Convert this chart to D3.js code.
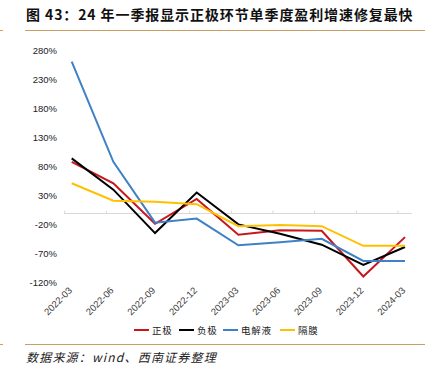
<!DOCTYPE html>
<html>
<head>
<meta charset="utf-8">
<script src="https://cdn.jsdelivr.net/npm/d3@7"></script>
<style>
  body { margin: 0; background: #fff; }
  svg { display: block; font-family: "Liberation Sans", Arial, sans-serif; }
</style>
</head>
<body>
<div id="chart"></div>
<script>
const quarters = ['2022-03', '2022-06', '2022-09', '2022-12', '2023-03', '2023-06', '2023-09', '2023-12', '2024-03'];
const cathode = [88, 51, -19, 24, -38, -30, -31, -110, -42];
const anode = [94, 40, -35, 35, -20, -36, -55, -90, -59];
const electrolyte = [261, 88, -17, -10, -56, -51, -45, -83, -83];
const separator = [51, 21, 19, 15, -23, -21, -23, -57, -57];
const yTicks = [-120, -70, -20, 30, 80, 130, 180, 230, 280];

const series = [
  { name: '正极', values: cathode, color: '#c8161d' },
  { name: '负极', values: anode, color: '#000000' },
  { name: '电解液', values: electrolyte, color: '#3f81c6' },
  { name: '隔膜', values: separator, color: '#ffc000' }
];

const width = 436, height = 375;
const svg = d3.select('#chart').append('svg')
  .attr('width', width)
  .attr('height', height);

// title + rules
svg.append('text')
  .attr('x', 26).attr('y', 20)
  .attr('font-family', '"Noto Sans CJK SC", sans-serif')
  .attr('font-weight', 'bold')
  .attr('font-size', 14)
  .attr('letter-spacing', 0.9)
  .attr('fill', '#111')
  .text('图 43：24 年一季报显示正极环节单季度盈利增速修复最快');

const ruleColor = '#c9a063';
svg.append('line').attr('x1', 25).attr('x2', 425).attr('y1', 30.5).attr('y2', 30.5)
  .attr('stroke', ruleColor).attr('stroke-width', 1);
svg.append('line').attr('x1', 25).attr('x2', 425).attr('y1', 344.5).attr('y2', 344.5)
  .attr('stroke', ruleColor).attr('stroke-width', 1);
// small edge marks on the left of the rules
[30.5, 344.5].forEach(yy => {
  svg.append('line').attr('x1', 0).attr('x2', 3).attr('y1', yy).attr('y2', yy)
    .attr('stroke', '#e0a040');
});

svg.append('text')
  .attr('x', 26).attr('y', 362)
  .attr('font-family', '"Noto Sans CJK SC", sans-serif')
  .attr('font-style', 'italic')
  .attr('font-size', 12)
  .attr('letter-spacing', 1.2)
  .attr('fill', '#222')
  .text('数据来源：wind、西南证券整理');

// scales
const x = d3.scalePoint().domain(quarters).range([71.7, 405]);
const y = d3.scaleLinear().domain([-120, 280]).range([282.3, 50.7]);

// y labels (no axis line)
const axisY = d3.axisLeft(y).tickValues(yTicks).tickSize(0).tickPadding(0)
  .tickFormat(d => d + '%');
svg.append('g')
  .attr('class', 'axis axis-y')
  .attr('transform', 'translate(57,0)')
  .call(axisY)
  .call(g => g.select('.domain').remove())
  .selectAll('text')
  .attr('font-size', 9.5)
  .attr('fill', '#222')
  .attr('font-family', '"Liberation Sans", Arial, sans-serif');

// category axis drawn on the zero line
const zeroY = Math.round(y(0)) + 0.5;
const axisX = svg.append('g').attr('class', 'axis axis-x');
axisX.append('line')
  .attr('x1', 64).attr('x2', 412)
  .attr('y1', zeroY).attr('y2', zeroY)
  .attr('stroke', '#d9d9d9').attr('stroke-width', 1);
axisX.selectAll('.tick-mark')
  .data(quarters)
  .join('line')
  .attr('class', 'tick-mark')
  .attr('x1', d => x(d) - 7).attr('x2', d => x(d) - 7)
  .attr('y1', zeroY - 3).attr('y2', zeroY)
  .attr('stroke', '#d9d9d9');

svg.append('g')
  .selectAll('text')
  .data(quarters)
  .join('text')
  .attr('transform', d => `translate(${x(d) + 1},${291}) rotate(-45)`)
  .attr('text-anchor', 'end')
  .attr('font-size', 9.5)
  .attr('fill', '#404040')
  .text(d => d);

// lines
const line = d3.line()
  .x((d, i) => x(quarters[i]))
  .y(d => y(d));

svg.append('g')
  .selectAll('path')
  .data(series)
  .join('path')
  .attr('d', d => line(d.values))
  .attr('fill', 'none')
  .attr('stroke', d => d.color)
  .attr('stroke-width', 2)
  .attr('stroke-linejoin', 'miter');

// legend
const legendX = [134, 179, 223, 280];
const legend = svg.append('g')
  .selectAll('g')
  .data(series)
  .join('g')
  .attr('transform', (d, i) => `translate(${legendX[i]},330)`);
legend.append('line')
  .attr('x1', 0).attr('x2', 15)
  .attr('stroke', d => d.color)
  .attr('stroke-width', 2);
legend.append('text')
  .attr('x', 18).attr('y', 3.5)
  .attr('font-family', '"Noto Sans CJK SC", sans-serif')
  .attr('font-size', 9.5)
  .attr('letter-spacing', 0.8)
  .attr('fill', '#222')
  .text(d => d.name);
</script>
</body>
</html>
